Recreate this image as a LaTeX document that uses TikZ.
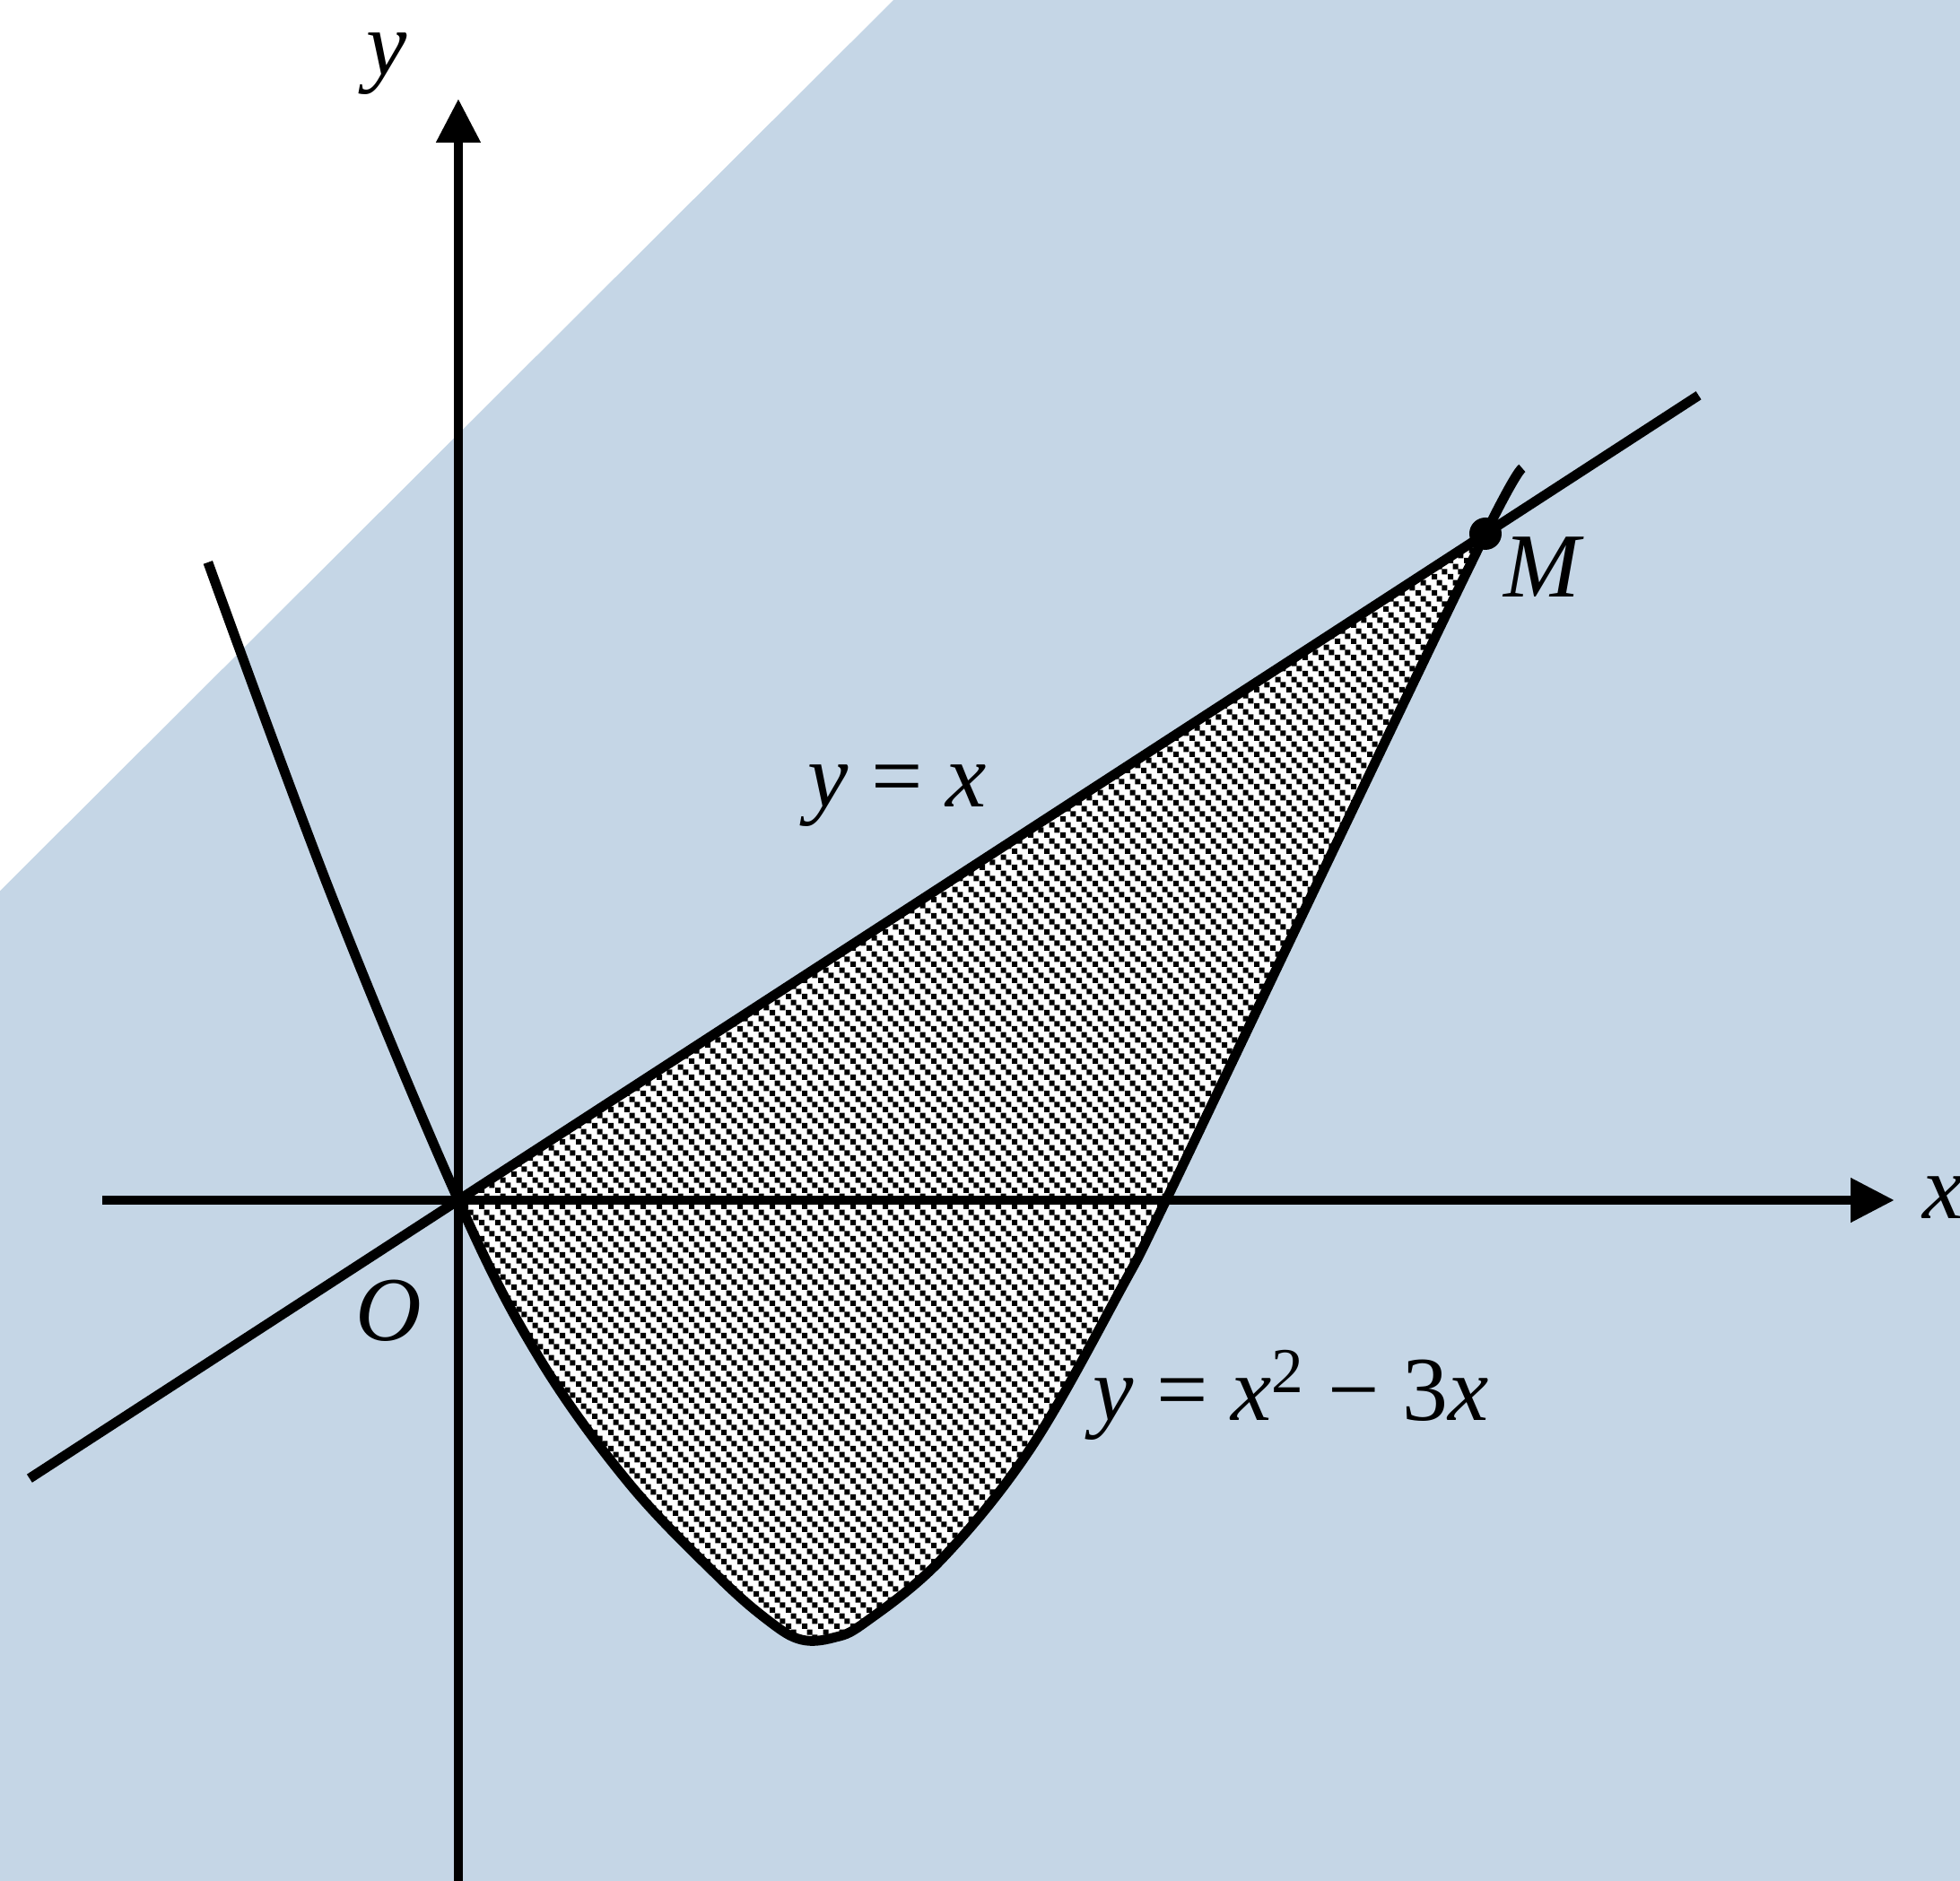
\documentclass[tikz,border=0pt]{standalone}
\usepackage{fontspec}
\setmainfont{Liberation Serif}
\usetikzlibrary{arrows.meta,patterns.meta}

\definecolor{fonsblau}{RGB}{197,214,230}

% Trama de punts en diagonal per a la regió ombrejada
\tikzdeclarepattern{
  name=puntsdiag,
  type=uncolored,
  bottom left={(0pt,0pt)},
  top right={(5pt,5pt)},
  tile size={(5pt,5pt)},
  code={
    \fill (0pt,0pt) rectangle (1.75pt,1.75pt);
    \fill (1.67pt,3.33pt) rectangle (3.42pt,5.08pt);
    \fill (3.33pt,1.67pt) rectangle (5.08pt,3.42pt);
  }
}

% La corba y = x^2 - 3x (dibuixada "a mà", com a l'original)
\newcommand{\corba}{plot[smooth, tension=0.6] coordinates {
    (-0.975,3.828) (-0.493,1.825) (0,0) (0.311,-0.937) (0.660,-1.690)
    (1.010,-2.256) (1.209,-2.525) (1.334,-2.637) (1.460,-2.626)
    (1.583,-2.535) (1.883,-2.153) (2.232,-1.481) (2.582,-0.528) (2.756,0)
    (3.385,2.030) (4,4) (4.143,4.393)}}

\begin{document}
\begin{tikzpicture}[x=2.8625cm, y=1.8575cm, line width=3.1pt,
    font=\fontsize{29}{34}\selectfont,
    fletxa/.style={-{Triangle[length=0.49cm, width=0.47cm]}}] % escales diferents en x i en y
    % Fons
    \useasboundingbox (-1.785,-4.086) rectangle (5.848,7.203);
    \fill[fonsblau] (-1.785,-4.086) rectangle (5.848,7.203);
    \fill[white] (-1.785,7.203) -- (1.694,7.203) -- (-1.785,1.857) -- cycle;

    % --- REGIÓ OMBREJADA ---
    % Retallem per sota de la recta y = x i omplim l'interior de la corba
    \begin{scope}
        \clip (-2,-2) -- (5,5) -- (5,-5) -- cycle;
        \fill[white] \corba -- cycle;
        \fill[pattern=puntsdiag] \corba -- cycle;
    \end{scope}

    % Eixos
    \draw[fletxa] (-1.387,0) -- (5.593,0);
    \draw[fletxa] (0,-4.1) -- (0,6.611);
    \node[anchor=base] (ex) at (5.782,-0.113) {\textit{x}};
    \node[anchor=base] (ey) at (-0.279,6.751) {\textit{y}};
    \node[anchor=base] (eO) at (-0.272,-0.840) {\textit{O}};

    % Recta y = x i corba
    \draw (-1.67,-1.67) -- (4.83,4.83);
    \draw \corba;
    \node[anchor=base] (erecta) at (1.708,2.358) {\textit{y} = \textit{x}};
    \node[anchor=base] (ecorba) at (3.242,-1.324) {\textit{y} = \textit{x}\textsuperscript{2} − 3\textit{x}};

    % Punt d'intersecció M
    \coordinate (M) at (4,4);
    \fill (M) circle (0.18cm);
    \node[anchor=base] (eM) at (4.227,3.623) {\textit{M}};
\end{tikzpicture}
\end{document}
